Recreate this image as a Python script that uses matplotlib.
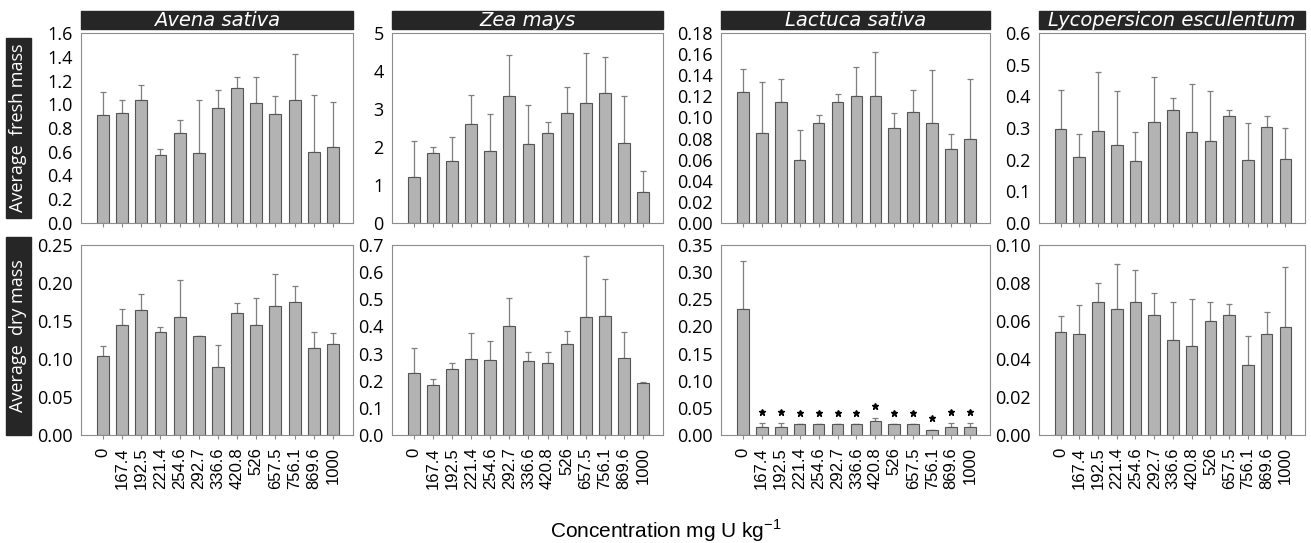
import matplotlib
matplotlib.use("Agg")
import matplotlib.pyplot as plt
from matplotlib.patches import Rectangle
import numpy as np

plt.rcParams['mathtext.fontset'] = 'custom'
plt.rcParams['mathtext.rm'] = 'Liberation Sans'

# concentrations (mg U / kg)
conc = ['0', '167.4', '192.5', '221.4', '254.6', '292.7', '336.6',
        '420.8', '526', '657.5', '756.1', '869.6', '1000']
species = ['Avena sativa', 'Zea mays', 'Lactuca sativa', 'Lycopersicon esculentum']

# fresh mass: mean and upper error
avena_fresh = [0.91, 0.93, 1.04, 0.57, 0.76, 0.59, 0.97, 1.14, 1.01, 0.92, 1.04, 0.60, 0.64]
avena_fresh_err = [0.19, 0.11, 0.12, 0.05, 0.11, 0.45, 0.15, 0.09, 0.22, 0.15, 0.38, 0.48, 0.38]
zea_fresh = [1.20, 1.84, 1.63, 2.60, 1.90, 3.33, 2.08, 2.37, 2.90, 3.17, 3.41, 2.10, 0.81]
zea_fresh_err = [0.95, 0.17, 0.63, 0.77, 0.96, 1.10, 1.03, 0.30, 0.69, 1.31, 0.97, 1.23, 0.56]
lactuca_fresh = [0.124, 0.085, 0.115, 0.060, 0.095, 0.115, 0.120, 0.120, 0.090, 0.105, 0.095, 0.070, 0.080]
lactuca_fresh_err = [0.022, 0.049, 0.021, 0.028, 0.007, 0.007, 0.028, 0.042, 0.014, 0.021, 0.050, 0.014, 0.056]
lyco_fresh = [0.296, 0.210, 0.289, 0.247, 0.196, 0.319, 0.358, 0.288, 0.259, 0.339, 0.200, 0.303, 0.203]
lyco_fresh_err = [0.125, 0.071, 0.187, 0.171, 0.091, 0.142, 0.037, 0.152, 0.157, 0.019, 0.116, 0.034, 0.097]

# dry mass: mean and upper error
avena_dry = [0.104, 0.145, 0.165, 0.135, 0.155, 0.130, 0.090, 0.160, 0.145, 0.170, 0.175, 0.115, 0.120]
avena_dry_err = [0.013, 0.021, 0.021, 0.007, 0.049, 0.0, 0.028, 0.014, 0.035, 0.042, 0.021, 0.021, 0.014]
zea_dry = [0.230, 0.185, 0.245, 0.280, 0.275, 0.400, 0.272, 0.265, 0.335, 0.435, 0.440, 0.285, 0.190]
zea_dry_err = [0.090, 0.023, 0.020, 0.095, 0.072, 0.105, 0.033, 0.042, 0.050, 0.225, 0.135, 0.095, 0.007]
lactuca_dry = [0.232, 0.015, 0.015, 0.020, 0.020, 0.020, 0.020, 0.025, 0.020, 0.020, 0.010, 0.015, 0.015]
lactuca_dry_err = [0.088, 0.007, 0.007, 0.0, 0.0, 0.0, 0.0, 0.007, 0.0, 0.0, 0.0, 0.007, 0.007]
lactuca_dry_sig = [False] + [True] * 12
lyco_dry = [0.054, 0.0533, 0.070, 0.0665, 0.070, 0.0633, 0.050, 0.0467, 0.060, 0.0633, 0.0367, 0.0533, 0.0567]
lyco_dry_err = [0.0087, 0.0150, 0.0098, 0.0233, 0.0170, 0.0113, 0.020, 0.0250, 0.010, 0.0057, 0.0153, 0.0114, 0.0318]

fresh = [(avena_fresh, avena_fresh_err), (zea_fresh, zea_fresh_err),
         (lactuca_fresh, lactuca_fresh_err), (lyco_fresh, lyco_fresh_err)]
dry = [(avena_dry, avena_dry_err), (zea_dry, zea_dry_err),
       (lactuca_dry, lactuca_dry_err), (lyco_dry, lyco_dry_err)]

fresh_ticks = [(np.arange(0, 1.61, 0.2), '%.1f'), (np.arange(0, 5.1, 1), '%d'),
               (np.arange(0, 0.181, 0.02), '%.2f'), (np.arange(0, 0.61, 0.1), '%.1f')]
dry_ticks = [(np.arange(0, 0.251, 0.05), '%.2f'), (np.arange(0, 0.71, 0.1), '%.1f'),
             (np.arange(0, 0.351, 0.05), '%.2f'), (np.arange(0, 0.101, 0.02), '%.2f')]

W, H = 1311, 543
fig = plt.figure(figsize=(W / 100, H / 100), dpi=100)

cols = [(81, 353), (392, 663), (721, 990), (1039, 1305)]
rows = [(33, 223), (245, 435)]


def add_ax(x0, x1, y0, y1):
    return fig.add_axes([x0 / W, 1 - y1 / H, (x1 - x0) / W, (y1 - y0) / H])


x = np.arange(len(conc))
for r, (data, ticks) in enumerate([(fresh, fresh_ticks), (dry, dry_ticks)]):
    for c in range(4):
        ax = add_ax(cols[c][0], cols[c][1], rows[r][0], rows[r][1])
        vals, errs = data[c]
        ax.bar(x, vals, width=0.62, color='#b3b3b3', edgecolor='#555555', linewidth=0.8, zorder=2)
        err_up = np.array(errs)
        ax.errorbar(x, vals, yerr=[np.zeros_like(err_up), err_up], fmt='none',
                    ecolor='#7f7f7f', elinewidth=0.9, capsize=2.5, capthick=0.9, zorder=1)
        tk, fmt = ticks[c]
        ax.set_ylim(tk[0], tk[-1])
        ax.set_yticks(tk)
        ax.set_yticklabels([fmt % t for t in tk], fontsize=13, family='Open Sans')
        ax.set_xlim(-1.15, 13.05)
        ax.set_xticks(x)
        if r == 1:
            ax.set_xticklabels(conc, rotation=90, fontsize=12, family='Liberation Sans')
        else:
            ax.set_xticklabels([])
        ax.tick_params(axis='y', length=0, pad=6)
        ax.tick_params(axis='x', length=3, color='#888888', pad=6)
        for s in ax.spines.values():
            s.set_color('#8c8c8c')
            s.set_linewidth(0.8)
        if r == 1 and c == 2:
            for i in range(len(conc)):
                if lactuca_dry_sig[i]:
                    ax.plot(x[i], vals[i] + errs[i] + 0.021, marker='*', color='black',
                            markersize=4.5, linestyle='none')

# species title bars
for c in range(4):
    x0, x1 = cols[c]
    fig.patches.append(Rectangle((x0 / W, 1 - 29 / H), (x1 - x0) / W, 18 / H,
                                 transform=fig.transFigure, color='#262626', zorder=0))
    fig.text((x0 + x1) / 2 / W, 1 - 20.5 / H, species[c], color='white', style='italic',
             fontsize=14, family='DejaVu Sans', ha='center', va='center')

# row labels
row_labels = ['Average  fresh mass', 'Average  dry mass']
row_boxes = [(38, 218), (237, 435)]
for label, (y0, y1) in zip(row_labels, row_boxes):
    fig.patches.append(Rectangle((6 / W, 1 - y1 / H), 25 / W, (y1 - y0) / H,
                                 transform=fig.transFigure, color='#262626', zorder=0))
    fig.text(18.5 / W, 1 - (y0 + y1) / 2 / H, label, color='white', rotation=90,
             fontsize=13, family='Open Sans', ha='center', va='center')

fig.text(666 / W, 1 - 531 / H, 'Concentration mg U kg$^{-1}$', fontsize=15,
         family='Liberation Sans', ha='center', va='center')

fig.savefig('out.png', dpi=100)
